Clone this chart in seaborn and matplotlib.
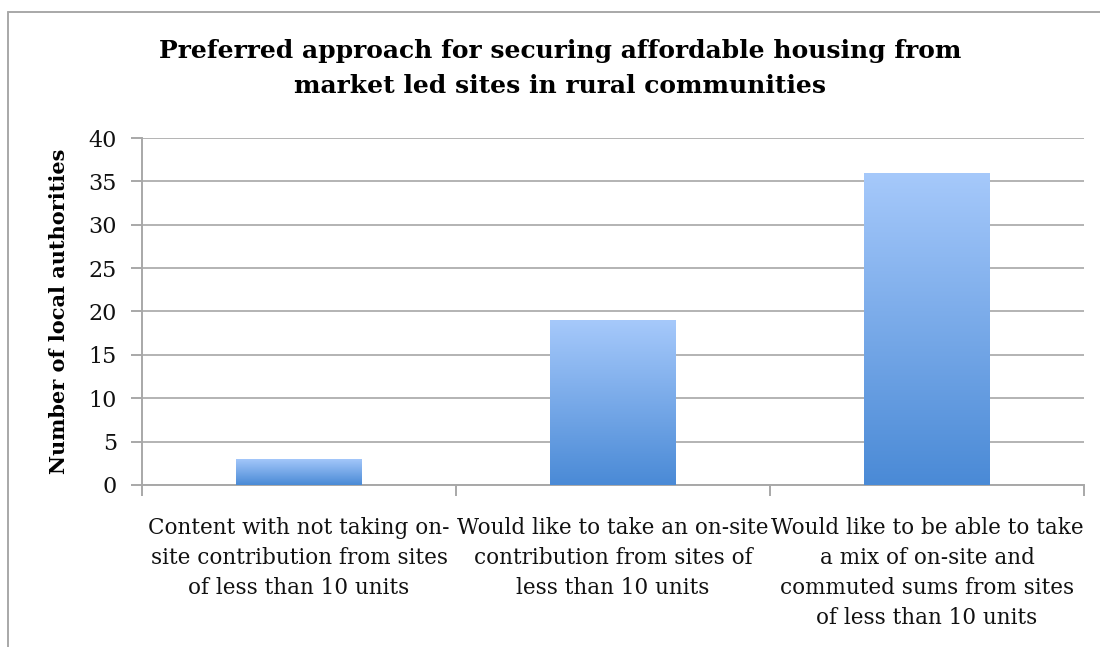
import numpy as np
import pandas as pd
import matplotlib
matplotlib.use("Agg")
import matplotlib.pyplot as plt
import seaborn as sns
from matplotlib.colors import LinearSegmentedColormap
from matplotlib.lines import Line2D

categories = [
    "Content with not taking on-\nsite contribution from sites\nof less than 10 units",
    "Would like to take an on-site\ncontribution from sites of\nless than 10 units",
    "Would like to be able to take\na mix of on-site and\ncommuted sums from sites\nof less than 10 units",
]
values = [3, 19, 36]
title = "Preferred approach for securing affordable housing from\nmarket led sites in rural communities"
ylabel = "Number of local authorities"
yticks = [0, 5, 10, 15, 20, 25, 30, 35, 40]

sns.set_theme(style="white")
plt.rcParams["font.family"] = ["DejaVu Serif"]
plt.rcParams["text.color"] = "#111111"

fig = plt.figure(figsize=(11, 6.47), dpi=100)
ax = fig.add_axes([0.1291, 0.2504, 0.8564, 0.5363])

df = pd.DataFrame({"cat": categories, "val": values})
sns.barplot(data=df, x="cat", y="val", ax=ax, width=0.4, color="#6fa3e6",
            edgecolor="none", zorder=3)

ax.set_ylim(0, 40)
ax.set_xlim(-0.5, len(categories) - 0.5)
ax.set_yticks(yticks)
ax.grid(axis="y", color="#b3b3b3", linewidth=1.4, zorder=0)
ax.set_axisbelow(True)

# gradient fill per bar
cmap = LinearSegmentedColormap.from_list("g", ["#4a8ad6", "#a6c9fb"])
grad = np.linspace(0, 1, 256).reshape(-1, 1)
for p in list(ax.patches):
    x0, y0 = p.get_x(), p.get_y()
    w, h = p.get_width(), p.get_height()
    im = ax.imshow(grad, cmap=cmap, origin="lower", aspect="auto",
                   extent=[x0, x0 + w, y0, y0 + h], zorder=3)
    im.set_clip_path(p)
    p.set_facecolor("none")
ax.set_xlim(-0.5, len(categories) - 0.5)
ax.set_ylim(0, 40)

for s in ["top", "right"]:
    ax.spines[s].set_visible(False)
for s in ["left", "bottom"]:
    ax.spines[s].set_color("#a8a8a8")
    ax.spines[s].set_linewidth(1.4)

ax.tick_params(axis="y", which="major", left=True, length=8, width=1.4,
               color="#a8a8a8", labelsize=16, pad=10, labelcolor="#111111")
ax.set_xticks(np.arange(-0.5, len(categories), 1.0), minor=True)
ax.tick_params(axis="x", which="minor", bottom=True, length=8, width=1.4,
               color="#a8a8a8")
ax.tick_params(axis="x", which="major", bottom=False, length=0, labelsize=15.5,
               pad=23, labelcolor="#111111")
for lab in ax.get_xticklabels():
    lab.set_linespacing(1.47)

ax.set_xlabel("")
ax.set_ylabel(ylabel, fontsize=15, fontweight="bold", labelpad=14, color="#000000")
fig.suptitle(title, x=0.509, y=1 - 39/647, fontsize=18, fontweight="bold",
             linespacing=1.6, color="#000000", va="top")

# outer frame (left and top)
fig.add_artist(Line2D([8/1100, 8/1100], [0, 1 - 12/647], transform=fig.transFigure,
                      color="#a8a8a8", linewidth=1.4))
fig.add_artist(Line2D([8/1100, 1], [1 - 12/647, 1 - 12/647], transform=fig.transFigure,
                      color="#a8a8a8", linewidth=1.4))

fig.savefig("out.png", dpi=100)
